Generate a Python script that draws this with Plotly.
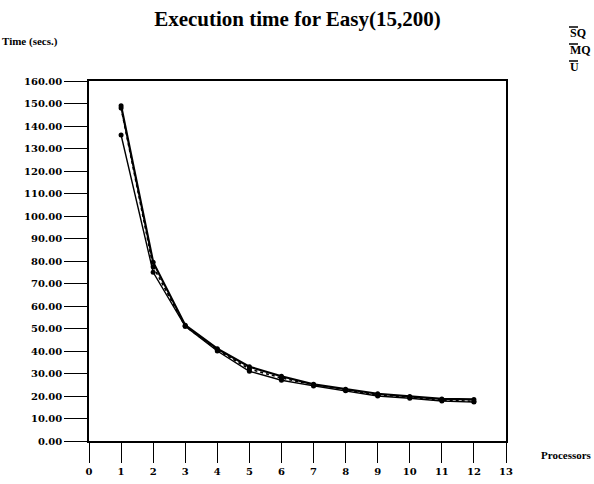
import plotly.graph_objects as go

# Execution time (seconds) against number of processors
processors = [1, 2, 3, 4, 5, 6, 7, 8, 9, 10, 11, 12]
sq_times = [149.0, 79.5, 51.5, 41.0, 33.0, 28.8, 25.2, 23.0, 21.0, 19.8, 18.7, 18.5]
mq_times = [136.0, 75.0, 51.0, 40.0, 31.0, 27.0, 24.5, 22.3, 20.0, 19.0, 17.8, 17.3]
u_times = [148.0, 77.5, 51.0, 40.5, 32.0, 28.0, 25.0, 22.7, 20.5, 19.4, 18.2, 17.6]

series_names = ["SQ", "MQ", "U"]
series_values = [sq_times, mq_times, u_times]
line_dashes = ["solid", "solid", "dot"]
line_widths = [2.2, 1.4, 1.6]

y_ticks = list(range(0, 161, 10))
x_ticks = list(range(0, 14))

FONT = "Liberation Serif"
TICK_FONT = "DejaVu Serif"

fig = go.Figure()
for name, vals, dash, w in zip(series_names, series_values, line_dashes, line_widths):
    fig.add_trace(go.Scatter(
        x=processors, y=vals, name=name, mode="lines+markers",
        line=dict(color="black", width=w, dash=dash),
        marker=dict(color="black", size=5, symbol="circle"),
        showlegend=False,
    ))

fig.update_layout(
    width=594, height=484,
    margin=dict(l=89, r=88, t=81, b=43, autoexpand=False),
    paper_bgcolor="white", plot_bgcolor="white",
    title=dict(
        text="Execution time for Easy(15,200)",
        x=0.5, xanchor="center", xref="paper",
        y=1 - 19 / 484, yanchor="middle", yref="container",
        font=dict(family=FONT, size=21, color="black", weight="bold"),
    ),
    font=dict(family=FONT, color="black"),
)

fig.update_xaxes(
    range=[0, 13], tickvals=x_ticks, ticktext=[str(t) for t in x_ticks],
    showgrid=False, zeroline=False, automargin=False,
    showline=True, linecolor="black", linewidth=1.5, mirror=True,
    ticks="outside", ticklen=20, tickwidth=1.2, tickcolor="black",
    ticklabelstandoff=0,
    tickfont=dict(family=TICK_FONT, size=10, color="black", weight="bold"),
)
fig.update_yaxes(
    range=[0, 160], tickvals=y_ticks, ticktext=[f"{t:.2f}" for t in y_ticks],
    showgrid=False, zeroline=False, automargin=False,
    showline=True, linecolor="black", linewidth=1.5, mirror=True,
    ticks="outside", ticklen=23, tickwidth=1.2, tickcolor="black",
    tickfont=dict(family=TICK_FONT, size=10, color="black", weight="bold"),
)

# Axis captions
fig.add_annotation(
    text="Time (secs.)", xref="paper", yref="paper",
    x=-89 / 417, y=1 + (81 - 42) / 360, xanchor="left", yanchor="middle",
    showarrow=False, font=dict(family=FONT, size=11, color="black", weight="bold"),
)
fig.add_annotation(
    text="Processors", xref="paper", yref="paper",
    x=(539 - 89) / 417, y=-(455 - 441) / 360, xanchor="left", yanchor="middle",
    showarrow=False, font=dict(family=FONT, size=11, color="black", weight="bold"),
)

# Series key: name with a short line sample above it
key_rows = [33, 50, 67]
for name, row in zip(series_names, key_rows):
    fig.add_annotation(
        text=name, xref="paper", yref="paper",
        x=(568 - 89) / 417, y=1 + (81 - row) / 360,
        xanchor="left", yanchor="middle", showarrow=False,
        font=dict(family=FONT, size=12, color="black", weight="bold"),
    )
    fig.add_shape(
        type="line", xref="paper", yref="paper",
        x0=(569 - 89) / 417, x1=(578 - 89) / 417,
        y0=1 + (81 - row + 6) / 360, y1=1 + (81 - row + 6) / 360,
        line=dict(color="black", width=1.5),
    )

fig.write_html("out.html")
